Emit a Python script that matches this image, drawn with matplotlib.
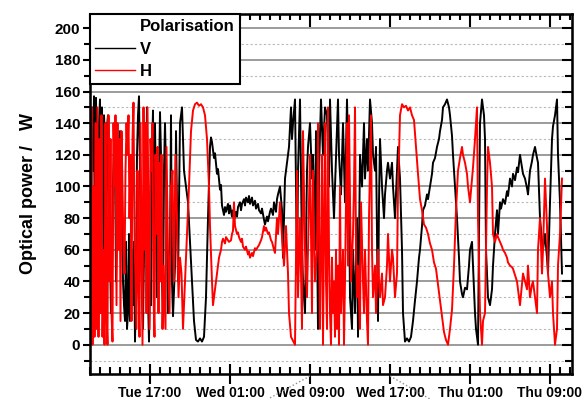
from datetime import datetime, timedelta

import matplotlib
matplotlib.use("Agg")
import matplotlib.pyplot as plt
import matplotlib.dates as mdates
from matplotlib.lines import Line2D
from matplotlib.ticker import MultipleLocator, NullFormatter

# ------ data (hours after Tue 11:00, power) ------

v_hours = [0.1, 0.2, 0.3, 0.4, 0.5, 0.6, 0.7, 0.8, 0.9, 1.0, 1.1, 1.2, 1.3, 1.4, 1.5, 1.6, 1.7, 1.8, 1.9, 2.0,
           2.1, 2.2, 2.3, 2.4, 2.5, 2.6, 2.7, 2.8, 2.9, 3.0, 3.1, 3.2, 3.3, 3.4, 3.5, 3.6, 3.7, 3.8, 3.9, 4.0,
           4.1, 4.2, 4.3, 4.4, 4.5, 4.6, 4.7, 4.8, 4.9, 5.0, 5.1, 5.2, 5.3, 5.4, 5.5, 5.6, 5.7, 5.8, 5.9, 6.0,
           6.1, 6.2, 6.3, 6.4, 6.5, 6.6, 6.7, 6.8, 6.9, 7.0, 7.1, 7.2, 7.3, 7.4, 7.5, 7.6, 7.8, 8.0, 8.1, 8.2,
           8.3, 8.5, 8.6, 8.8, 9.0, 9.2, 9.4, 9.6, 9.8, 10.0, 10.2, 10.4, 10.6, 10.8, 11.0, 11.2, 11.4, 11.6,
           11.8, 12.0, 12.1, 12.2, 12.4, 12.5, 12.7, 12.8, 13.0, 13.1, 13.2, 13.4, 13.5, 13.6, 13.8, 13.9,
           14.0, 14.2, 14.3, 14.4, 14.6, 14.7, 14.8, 15.0, 15.1, 15.2, 15.4, 15.5, 15.6, 15.8, 15.9, 16.0,
           16.2, 16.3, 16.5, 16.6, 16.8, 16.9, 17.1, 17.2, 17.4, 17.5, 17.7, 17.8, 18.0, 18.1, 18.3, 18.4,
           18.6, 18.7, 18.8, 19.0, 19.2, 19.3, 19.5, 19.7, 19.9, 20.1, 20.2, 20.3, 20.5, 20.7, 20.8, 21.0,
           21.2, 21.3, 21.5, 21.7, 21.8, 22.0, 22.2, 22.3, 22.5, 22.6, 22.8, 22.9, 23.1, 23.3, 23.5, 23.7,
           23.9, 24.0, 24.2, 24.4, 24.5, 24.8, 24.9, 25.1, 25.3, 25.5, 25.7, 25.9, 26.0, 26.2, 26.3, 26.5,
           26.7, 26.8, 27.0, 27.2, 27.4, 27.5, 27.7, 27.8, 28.0, 28.2, 28.3, 28.5, 28.6, 28.8, 28.9, 29.0,
           29.2, 29.4, 29.5, 29.7, 29.8, 30.0, 30.2, 30.3, 30.5, 30.7, 30.8, 31.0, 31.2, 31.3, 31.5, 31.7,
           31.9, 32.1, 32.3, 32.5, 32.7, 32.9, 33.0, 33.2, 33.3, 33.5, 33.7, 33.8, 34.0, 34.2, 34.3, 34.5,
           34.7, 34.9, 35.0, 35.2, 35.3, 35.5, 35.7, 35.9, 36.0, 36.2, 36.3, 36.5, 36.7, 36.9, 37.0, 37.2,
           37.3, 37.5, 37.7, 37.9, 38.0, 38.2, 38.3, 38.5, 38.6, 38.8, 39.0, 39.2, 39.4, 39.5, 39.6, 39.8,
           40.0, 40.2, 40.3, 40.5, 40.7, 40.8, 41.0, 41.1, 41.3, 41.5, 41.7, 41.8, 42.0, 42.2, 42.3, 42.5,
           42.7, 42.8, 43.0, 43.2, 43.3, 43.5, 43.7, 43.8, 44.0, 44.2, 44.3, 44.5, 44.7, 44.8, 45.0, 45.2,
           45.3, 45.5, 45.7, 45.8, 46.0, 46.2, 46.3, 46.5, 46.7, 46.8, 47.0, 47.2]
v_power = [60, 150, 110, 157, 20, 156, 90, 10, 140, 155, 60, 150, 15, 145, 130, 20, 138, 145, 90, 60,
           20, 50, 100, 128, 115, 40, 70, 90, 125, 135, 110, 80, 40, 25, 15, 65, 10, 20, 70, 15,
           40, 60, 25, 65, 2, 40, 120, 145, 157, 110, 60, 30, 10, 60, 140, 90, 150, 30, 2, 40,
           25, 120, 148, 60, 140, 95, 30, 75, 105, 147, 120, 40, 20, 110, 140, 110, 20, 60, 145, 40,
           18, 50, 135, 40, 140, 150, 110, 100, 90, 65, 40, 15, 3, 2, 4, 2, 5, 30,
           80, 125, 131, 128, 118, 121, 108, 111, 98, 101, 88, 82, 87, 84, 89, 83,
           88, 81, 85, 79, 84, 81, 87, 90, 85, 89, 92, 88, 93, 90, 94, 89,
           93, 88, 91, 86, 89, 85, 83, 86, 79, 76, 81, 78, 84, 86, 82, 90,
           84, 92, 95, 100, 85, 55, 105, 115, 125, 150, 130, 140, 155, 45, 110, 155,
           60, 40, 20, 110, 125, 140, 105, 120, 60, 135, 10, 110, 155, 120, 150, 145,
           100, 155, 110, 80, 100, 155, 120, 95, 140, 90, 155, 95, 30, 10, 60, 20,
           80, 5, 120, 100, 140, 105, 130, 110, 155, 140, 120, 110, 125, 15, 90, 130,
           100, 80, 95, 110, 115, 105, 115, 100, 80, 110, 125, 105, 60, 20, 2, 4,
           2, 5, 15, 28, 40, 55, 60, 75, 85, 88, 95, 92, 100, 108, 115, 118,
           125, 130, 135, 142, 150, 152, 155, 150, 145, 132, 120, 100, 80, 55, 40, 32,
           30, 36, 35, 50, 60, 65, 50, 20, 10, 0, 140, 155, 145, 130, 60, 30,
           25, 35, 50, 70, 85, 70, 90, 86, 92, 89, 97, 94, 105, 100, 108, 104,
           112, 109, 120, 112, 108, 105, 99, 95, 110, 116, 120, 125, 118, 115, 80, 65,
           60, 70, 55, 45, 90, 130, 138, 145, 155, 120, 90, 45]

h_hours = [0.05, 0.15, 0.25, 0.35, 0.45, 0.55, 0.65, 0.75, 0.85, 0.95, 1.05, 1.15, 1.25, 1.35, 1.45, 1.55,
           1.65, 1.75, 1.85, 1.95, 2.05, 2.15, 2.25, 2.35, 2.45, 2.55, 2.65, 2.75, 2.85, 2.95, 3.05, 3.15,
           3.25, 3.35, 3.45, 3.55, 3.65, 3.75, 3.85, 3.95, 4.05, 4.15, 4.25, 4.35, 4.45, 4.55, 4.65, 4.75,
           4.85, 4.95, 5.05, 5.15, 5.25, 5.35, 5.45, 5.55, 5.65, 5.75, 5.85, 5.95, 6.05, 6.15, 6.25, 6.35,
           6.45, 6.55, 6.65, 6.75, 6.85, 6.95, 7.05, 7.15, 7.25, 7.35, 7.45, 7.55, 7.65, 7.8, 7.95, 8.1,
           8.25, 8.4, 8.55, 8.7, 8.85, 9.0, 9.15, 9.3, 9.5, 9.7, 9.9, 10.1, 10.3, 10.5, 10.7, 10.9, 11.1,
           11.3, 11.5, 11.7, 11.9, 12.0, 12.2, 12.3, 12.5, 12.7, 12.8, 12.9, 13.1, 13.2, 13.3, 13.5, 13.6,
           13.8, 13.9, 14.1, 14.2, 14.3, 14.4, 14.5, 14.7, 14.8, 14.9, 15.1, 15.2, 15.3, 15.5, 15.6, 15.8,
           15.9, 16.0, 16.2, 16.3, 16.5, 16.6, 16.8, 16.9, 17.1, 17.2, 17.4, 17.5, 17.6, 17.8, 17.9, 18.1,
           18.2, 18.4, 18.5, 18.7, 18.8, 19.0, 19.2, 19.4, 19.6, 19.8, 19.9, 20.1, 20.5, 20.7, 20.8, 21.0,
           21.2, 21.3, 21.5, 21.7, 22.0, 22.2, 22.3, 22.5, 22.7, 22.8, 23.0, 23.2, 23.3, 23.5, 23.6, 23.7,
           23.8, 23.9, 24.0, 24.1, 24.2, 24.3, 24.4, 24.5, 24.6, 24.7, 24.8, 24.9, 25.0, 25.1, 25.3, 25.4,
           25.5, 25.7, 25.8, 25.9, 26.0, 26.1, 26.3, 26.4, 26.5, 26.6, 26.7, 26.8, 27.0, 27.1, 27.3, 27.4,
           27.5, 27.7, 27.8, 27.9, 28.1, 28.2, 28.3, 28.5, 28.6, 28.8, 28.9, 29.0, 29.2, 29.3, 29.5, 29.7,
           29.8, 30.0, 30.2, 30.3, 30.5, 30.7, 30.8, 30.9, 31.0, 31.2, 31.4, 31.6, 31.8, 32.0, 32.2, 32.4,
           32.6, 32.8, 33.0, 33.2, 33.4, 33.6, 33.8, 34.0, 34.2, 34.4, 34.6, 34.8, 35.0, 35.2, 35.4, 35.6,
           35.8, 36.0, 36.2, 36.4, 36.6, 36.8, 37.0, 37.2, 37.3, 37.5, 37.7, 37.8, 38.0, 38.2, 38.3, 38.5,
           38.7, 38.8, 39.0, 39.2, 39.3, 39.5, 39.7, 39.8, 40.0, 40.2, 40.3, 40.5, 40.7, 40.8, 41.0, 41.2,
           41.3, 41.5, 41.7, 41.8, 42.0, 42.2, 42.3, 42.5, 42.7, 42.8, 43.0, 43.2, 43.3, 43.5, 43.7, 43.8,
           44.0, 44.2, 44.3, 44.5, 44.7, 44.8, 45.0, 45.2, 45.3, 45.5, 45.7, 45.8, 46.0, 46.2, 46.3, 46.5,
           46.7, 46.8, 47.0, 47.2]
h_power = [100, 150, 0, 100, 5, 140, 10, 150, 5, 130, 20, 145, 5, 60, 0, 140,
           20, 0, 145, 40, 130, 20, 2, 140, 100, 145, 25, 140, 60, 130, 15, 135,
           100, 60, 45, 110, 140, 120, 145, 80, 120, 15, 130, 153, 70, 40, 10, 110,
           40, 5, 140, 70, 0, 150, 60, 140, 20, 150, 80, 10, 130, 110, 140, 30,
           5, 120, 70, 125, 20, 115, 40, 120, 10, 50, 30, 10, 125, 60, 20, 100,
           110, 40, 120, 80, 30, 55, 45, 10, 40, 70, 100, 135, 148, 152, 153, 151, 152,
           150, 145, 130, 100, 75, 40, 25, 35, 45, 50, 55, 60, 65, 67, 64, 68,
           66, 65, 66, 70, 72, 90, 75, 70, 71, 68, 65, 67, 62, 60, 62, 57,
           59, 55, 58, 56, 61, 60, 62, 63, 66, 68, 75, 72, 74, 70, 71, 66,
           65, 60, 58, 80, 70, 90, 68, 50, 75, 45, 20, 5, 0, 110, 30, 80,
           10, 135, 60, 30, 120, 20, 110, 40, 60, 140, 10, 120, 0, 140, 40, 10,
           150, 60, 20, 0, 55, 20, 40, 5, 60, 10, 50, 0, 100, 20, 60, 0,
           40, 140, 50, 145, 90, 40, 70, 100, 150, 60, 30, 50, 10, 90, 40, 20,
           60, 15, 0, 80, 145, 60, 30, 50, 20, 60, 40, 30, 45, 25, 30, 50,
           70, 40, 60, 55, 30, 45, 100, 120, 145, 152, 150, 151, 148, 150, 145, 142,
           125, 108, 92, 85, 76, 74, 70, 64, 60, 52, 48, 38, 28, 18, 8, 3,
           0, 10, 22, 50, 85, 110, 118, 125, 120, 115, 108, 100, 90, 105, 112, 130,
           150, 80, 20, 0, 15, 20, 100, 125, 115, 100, 70, 65, 70, 68, 65, 62,
           60, 58, 55, 52, 50, 49, 48, 44, 40, 35, 25, 38, 45, 40, 35, 50,
           30, 38, 40, 30, 20, 60, 80, 45, 60, 105, 75, 45, 30, 40, 20, 0,
           10, 50, 70, 105]

y_ticks = [0, 20, 40, 60, 80, 100, 120, 140, 160, 180, 200]
series_labels = ["V", "H"]
legend_title = "Polarisation"

# ------ plot ------

plt.rcParams['font.family'] = ['Liberation Sans', 'DejaVu Sans']
plt.rcParams['font.weight'] = 'bold'

start = datetime(2024, 1, 2, 11, 0)  # a Tuesday, 11:00
t_v = [start + timedelta(hours=h) for h in v_hours]
t_h = [start + timedelta(hours=h) for h in h_hours]

fig = plt.figure(figsize=(5.83, 3.99), dpi=100)
rect = [90 / 583, 1 - 374 / 399, 482 / 583, 360 / 399]
ax = fig.add_axes(rect)

ax.plot(t_v, v_power, color='black', lw=1.4)
ax.plot(t_h, h_power, color='#ff0000', lw=1.4)

ax.set_xlim(start, start + timedelta(hours=48.2))
ax.set_ylim(-18.5, 209)

ax.xaxis.set_major_locator(mdates.HourLocator(byhour=[1, 9, 17]))
ax.xaxis.set_minor_locator(mdates.HourLocator(interval=1))
ax.xaxis.set_major_formatter(mdates.DateFormatter('%a %H:%M'))
ax.set_yticks(y_ticks)
ax.yaxis.set_minor_locator(MultipleLocator(10))

ax.yaxis.grid(True, which='major', color='#8a8a8a', lw=1.2)
ax.yaxis.grid(True, which='minor', color='#b8b8b8', lw=0.8, ls=(0, (2, 2)))
ax.set_axisbelow(True)

ax.tick_params(axis='x', which='major', direction='inout', length=15, width=1.5, labelsize=10, pad=1)
ax.tick_params(axis='x', which='minor', direction='in', length=5, width=1.5)
ax.tick_params(axis='y', which='major', direction='out', length=5, width=1.5, labelsize=11, pad=2)
ax.tick_params(axis='y', which='minor', direction='out', length=4, width=1.5)
for s in ax.spines.values():
    s.set_linewidth(1.8)

ax.set_ylabel('Optical power /   W', fontsize=13, fontweight='bold', labelpad=13)

# top and right ticks, pointing inwards
ax_top = ax.twiny()
ax_top.set_xlim(ax.get_xlim())
ax_top.xaxis.set_major_locator(mdates.HourLocator(byhour=[1, 9, 17]))
ax_top.xaxis.set_minor_locator(mdates.HourLocator(interval=1))
ax_top.xaxis.set_major_formatter(NullFormatter())
ax_top.tick_params(axis='x', which='major', direction='in', length=9, width=1.5)
ax_top.tick_params(axis='x', which='minor', direction='in', length=4, width=1.5)

ax_r = ax.twinx()
ax_r.set_ylim(ax.get_ylim())
ax_r.set_yticks(y_ticks)
ax_r.yaxis.set_minor_locator(MultipleLocator(10))
ax_r.yaxis.set_major_formatter(NullFormatter())
ax_r.tick_params(axis='y', which='major', direction='in', length=7, width=1.5)
ax_r.tick_params(axis='y', which='minor', direction='in', length=5, width=1.5)

handles = [Line2D([], [], color='none'),
           Line2D([], [], color='black', lw=1.0),
           Line2D([], [], color='#ff0000', lw=1.0)]
leg = fig.legend(handles, [legend_title] + series_labels, loc='upper left',
                 bbox_to_anchor=(rect[0], rect[1] + rect[3]), bbox_transform=fig.transFigure,
                 borderaxespad=0, fancybox=False, framealpha=1, edgecolor='black',
                 prop={'size': 12, 'weight': 'bold'}, handlelength=2.4, handletextpad=0.3,
                 labelspacing=0.45, borderpad=0.3)
leg.get_frame().set_linewidth(1.5)

# dotted zoom connectors under the axis
fig.add_artist(Line2D([310 / 583, 268 / 583], [1 - 376 / 399, 0.0], transform=fig.transFigure,
                      color='#909090', lw=1, ls=':'))
fig.add_artist(Line2D([390 / 583, 430 / 583], [1 - 376 / 399, 0.0], transform=fig.transFigure,
                      color='#909090', lw=1, ls=':'))

plt.savefig('out.png', dpi=100)
